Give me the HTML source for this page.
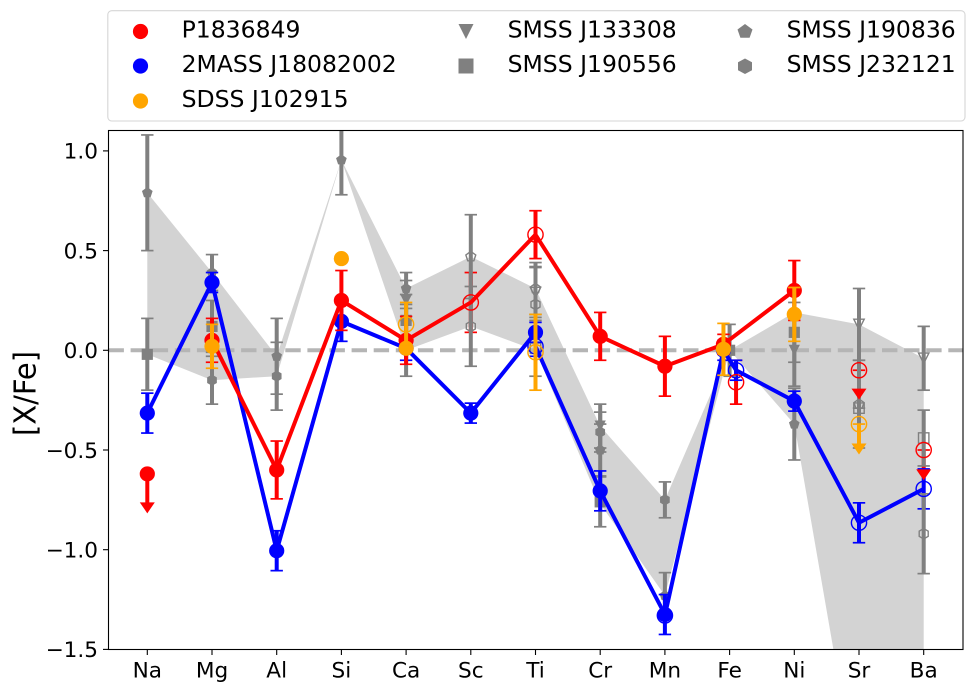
<!DOCTYPE html>
<html lang="en">
<head>
<meta charset="utf-8">
<title>[X/Fe] abundance chart</title>
<style>
html,body{margin:0;padding:0;background:#fff;width:974px;height:692px;overflow:hidden}
svg{display:block;font-family:"DejaVu Sans","Liberation Sans",sans-serif}
</style>
</head>
<body>
<svg id="chart" xmlns="http://www.w3.org/2000/svg" width="974" height="692" viewBox="0 0 974 692">
  <defs><clipPath id="plot-clip"><rect x="108.5" y="130.5" width="854.5" height="519"/></clipPath></defs>
  <rect x="0" y="0" width="974" height="692" fill="#fff"/>
  <g id="plot" clip-path="url(#plot-clip)"></g>
  <rect x="108.5" y="130.5" width="854.5" height="519" fill="none" stroke="#000" stroke-width="1.1"/>
  <g id="axes"></g>
  <text transform="translate(35.3,393.5) rotate(-90) scale(0.95,1)" text-anchor="middle" font-size="30.5" fill="#000">[X/Fe]</text>
  <g>
    <rect x="107.8" y="10.7" width="857.2" height="110.3" rx="4" fill="#fff" stroke="#d6d6d6" stroke-width="1.1"/>
    <g><circle cx="140.5" cy="31.5" r="7.6" fill="#ff0000"/><text x="181.6" y="37.4" font-size="23.5">P1836849</text></g>
    <g><circle cx="140.5" cy="66" r="7.6" fill="#0000ff"/><text x="181.6" y="72" font-size="23.5">2MASS J18082002</text></g>
    <g><circle cx="140.5" cy="101" r="7.6" fill="#ffa500"/><text x="181.6" y="107" font-size="23.5">SDSS J102915</text></g>
    <g><polygon points="458.5,24 473.5,24 466,39" fill="#808080"/><text x="507.6" y="37.4" font-size="23.5">SMSS J133308</text></g>
    <g><rect x="458.5" y="58.5" width="15" height="15" fill="#808080"/><text x="507.6" y="72" font-size="23.5">SMSS J190556</text></g>
    <g><polygon points="745,24 752.5,29.5 749.6,37.8 740.4,37.8 737.5,29.5" fill="#808080"/><text x="786.6" y="37.4" font-size="23.5">SMSS J190836</text></g>
    <g><polygon points="745,58.5 752,62.3 752,70.2 745,74 738,70.2 738,62.3" fill="#808080"/><text x="786.6" y="72" font-size="23.5">SMSS J232121</text></g>
  </g>
</svg>
<script>
// ---- Categories and ticks ----
const species = ['Na','Mg','Al','Si','Ca','Sc','Ti','Cr','Mn','Fe','Ni','Sr','Ba'];
const yTicks = [1.0, 0.5, 0.0, -0.5, -1.0, -1.5];
const yTickLabels = ['1.0','0.5','0.0','\u22120.5','\u22121.0','\u22121.5'];
const _ = null;

// ---- Grey envelope ----
const shadeUpper = [0.79,0.39,-0.03,0.955,0.31,0.47,0.31,-0.38,-0.75,0.0,0.19,0.13,-0.04];
const shadeLower = [-0.02,-0.15,-0.13,0.955,0.0,0.12,0.0,-0.77,-1.23,0.0,-0.37,-2.24,-2.5];

// ---- P1836849 ----
const redFilled    = [-0.62,0.05,-0.60,0.25,0.05,_,_,0.07,-0.08,0.03,0.30,_,_];
const redFilledErr = [_,0.11,0.145,0.15,0.12,_,_,0.12,0.15,0.05,0.15,_,_];
const redOpen      = [_,_,_,_,_,0.24,0.58,_,_,-0.16,_,-0.10,-0.50];
const redOpenErr   = [_,_,_,_,_,0.15,0.12,_,_,0.11,_,_,_];
const redLimit     = [-0.79,_,_,_,_,_,_,_,_,_,_,-0.22,-0.625];
const redLineFilled = [0,1,1,1,1,0,0,1,1,1,1,0,0];
const redLineOpen   = [0,0,0,0,0,1,1,0,0,0,0,0,0];

// ---- 2MASS J18082002 ----
const blueFilled    = [-0.315,0.34,-1.005,0.145,0.01,-0.315,0.09,-0.705,-1.325,0.0,-0.255,_,_];
const blueFilledErr = [0.10,0.05,0.10,0.10,0.06,0.05,0.05,0.10,0.10,0.05,0.05,_,_];
const blueOpen      = [_,_,_,_,_,_,0.02,_,-1.33,-0.10,_,-0.865,-0.695];
const blueOpenErr   = [_,_,_,_,_,_,0.05,_,_,0.05,_,0.10,0.10];

// ---- SDSS J102915 ----
const orangeFilled    = [_,0.02,_,0.46,0.01,_,_,_,_,0.005,0.18,_,_];
const orangeFilledErr = [_,0.11,_,_,_,_,_,_,_,0.13,0.135,_,_];
const orangeOpen      = [_,_,_,_,0.13,_,-0.01,_,_,_,_,-0.37,_];
const orangeOpenErr   = [_,_,_,_,0.11,_,0.19,_,_,_,_,_,_];
const orangeLimit     = [_,_,_,_,_,_,_,_,_,_,_,-0.495,_];

// ---- SMSS J133308 ----
const j133308Filled    = [_,_,_,_,0.25,_,_,-0.38,_,_,0.0,_,_];
const j133308FilledErr = [_,_,_,_,0.10,_,_,0.11,_,_,0.18,_,_];
const j133308Open      = [_,_,_,_,_,_,0.29,_,_,_,_,0.13,-0.04];
const j133308OpenErr   = [_,_,_,_,_,_,0.125,_,_,_,_,0.18,0.16];

// ---- SMSS J190556 ----
const j190556Filled    = [-0.02,0.12,_,_,0.15,_,_,-0.76,_,0.0,0.09,_,_];
const j190556FilledErr = [0.18,0.13,_,_,0.13,_,_,0.125,_,0.13,0.15,_,_];
const j190556Open      = [_,_,_,_,_,_,0.01,_,_,_,_,-0.29,-0.44];
const j190556OpenErr   = [_,_,_,_,_,_,0.14,_,_,_,_,_,0.14];
const j190556Limit     = [_,_,_,_,_,_,_,_,_,_,_,-0.47,_];

// ---- SMSS J190836 ----
const j190836Filled    = [0.79,0.39,-0.03,0.955,0.31,_,_,-0.50,-1.23,_,-0.37,_,_];
const j190836FilledErr = [0.29,0.09,0.19,0.175,0.08,_,_,0.13,0.115,_,0.18,_,_];
const j190836Open      = [_,_,_,_,_,0.47,0.31,_,_,_,_,-0.27,_];
const j190836OpenErr   = [_,_,_,_,_,0.21,0.13,_,_,_,_,0.22,_];

// ---- SMSS J232121 ----
const j232121Filled    = [_,-0.15,-0.13,_,0.04,_,_,-0.41,-0.75,_,_,_,_];
const j232121FilledErr = [_,0.12,0.17,_,0.17,_,_,0.10,0.09,_,_,_,_];
const j232121Open      = [_,_,_,_,_,0.12,0.23,_,_,_,_,_,-0.92];
const j232121OpenErr   = [_,_,_,_,_,0.20,0.19,_,_,_,_,_,0.20];

// ---- Axis functions ----
const SVG_NS = 'http://www.w3.org/2000/svg';
const plot = document.getElementById('plot');
const axes = document.getElementById('axes');
const FE_INDEX = species.indexOf('Fe');
const PLOT_TOP = 130.5;
const PLOT_BOTTOM = 649.5;
function xScale(i){ return 147.3 + i * 64.7; }
function yScale(v){ return 350.3 - v * 199.4; }
function xFilled(i, offsetFe){ return xScale(i) - (offsetFe && i === FE_INDEX ? 0.095 * 64.7 : 0); }
function xOpen(i, offsetFe){ return xScale(i) + (offsetFe && i === FE_INDEX ? 0.1 * 64.7 : 0); }

function make(tag, attrs, parent){
  const el = document.createElementNS(SVG_NS, tag);
  for (const k in attrs) el.setAttribute(k, attrs[k]);
  (parent || plot).appendChild(el);
  return el;
}

function drawErrorBar(x, v, err, color, slug){
  const g = make('g', {});
  
  
  const top = yScale(v + err), bottom = yScale(v - err);
  make('line', {x1:x, x2:x, y1:Math.max(top, PLOT_TOP), y2:Math.min(bottom, PLOT_BOTTOM), stroke:color, 'stroke-width':4}, g);
  if (top >= PLOT_TOP) make('line', {x1:x-6.2, x2:x+6.2, y1:top, y2:top, stroke:color, 'stroke-width':1.7}, g);
  if (bottom <= PLOT_BOTTOM) make('line', {x1:x-6.2, x2:x+6.2, y1:bottom, y2:bottom, stroke:color, 'stroke-width':1.7}, g);
}

function drawLimitLine(x, v, lim, color, slug){
  const g = make('g', {});
  
  
  make('line', {x1:x, x2:x, y1:yScale(v), y2:yScale(lim), stroke:color, 'stroke-width':4}, g);
  make('line', {x1:x-6.2, x2:x+6.2, y1:yScale(v), y2:yScale(v), stroke:color, 'stroke-width':1.7}, g);
}

function drawLimitTip(x, lim, color, slug){
  const y = yScale(lim);
  const t = make('polygon', {points:[x-7.5,y-5.5,x+7.5,y-5.5,x,y+5.5].join(' '), fill:color});
  
  
}

function shapePoints(shape, x, y, r){
  let pts = [];
  if (shape === 'triangle') pts = [x-r,y-r,x+r,y-r,x,y+r];
  if (shape === 'square') pts = [x-r,y-r,x+r,y-r,x+r,y+r,x-r,y+r];
  if (shape === 'pentagon' || shape === 'hexagon'){
    const n = shape === 'pentagon' ? 5 : 6;
    for (let k = 0; k < n; k++){
      const a = -Math.PI/2 + k * 2*Math.PI/n;
      pts.push(x + r*Math.cos(a), y + r*Math.sin(a));
    }
  }
  return pts.join(' ');
}

function drawMarker(x, v, shape, r, color, open, slug){
  const y = yScale(v);
  const style = open ? {fill:'none', stroke:color, 'stroke-width':1.4} : {fill:color};
  let m;
  if (shape === 'circle') m = make('circle', Object.assign({cx:x, cy:y, r:r}, style));
  else m = make('polygon', Object.assign({points:shapePoints(shape, x, y, r)}, style));
  
  
}

function connect(points, color, slug){
  const p = make('polyline', {points:points.map(q => q.join(',')).join(' '), fill:'none', stroke:color, 'stroke-width':4, 'stroke-linejoin':'round'});
  
  
}

// Lower edge of the envelope, cut where it leaves the bottom of the plot.
function lowerEdgePoints(){
  const out = [];
  species.forEach((s,i) => {
    const x = xScale(i), y = yScale(shadeLower[i]);
    if (i > 0){
      const px = xScale(i-1), py = yScale(shadeLower[i-1]);
      if (py <= PLOT_BOTTOM && y > PLOT_BOTTOM){
        out.push([px + (PLOT_BOTTOM-py)/(y-py)*(x-px), PLOT_BOTTOM]);
      }
    }
    out.push([x, Math.min(y, PLOT_BOTTOM)]);
  });
  return out;
}

// ---- Shaded envelope and reference line ----
const shadePts = species.map((s,i) => [xScale(i), yScale(shadeUpper[i])])
  .concat(lowerEdgePoints().reverse())
  .map(q => q.join(','));
const shade = make('polygon', {points:shadePts.join(' '), fill:'#d3d3d3'});



const zeroLine = make('line', {x1:108.5, x2:963, y1:yScale(0), y2:yScale(0), stroke:'#b5b5b5', 'stroke-width':4, 'stroke-dasharray':'15.4 6.7'});



// ---- Drawing helpers per series ----
function drawUnderBars(open, openErr, limit, color, slug, offsetFe){
  species.forEach((s,i) => {
    if (open[i] === null) return;
    const x = xOpen(i, offsetFe);
    if (openErr[i] !== null) drawErrorBar(x, open[i], openErr[i], color, slug + '-' + s);
    if (limit && limit[i] !== null) drawLimitLine(x, open[i], limit[i], color, slug + '-' + s);
  });
}

function drawGrey(filled, filledErr, open, openErr, limit, shape, slug){
  species.forEach((s,i) => {
    const x = xScale(i);
    if (filled[i] !== null && filledErr[i] !== null) drawErrorBar(x, filled[i], filledErr[i], '#808080', slug + '-' + s);
    if (open[i] !== null && openErr[i] !== null) drawErrorBar(x, open[i], openErr[i], '#808080', slug + '-open-' + s);
    if (open[i] !== null && limit && limit[i] !== null) drawLimitLine(x, open[i], limit[i], '#808080', slug + '-' + s);
  });
  species.forEach((s,i) => {
    const x = xScale(i);
    if (filled[i] !== null) drawMarker(x, filled[i], shape, 5.6, '#808080', false, slug + '-' + s);
    if (open[i] !== null) drawMarker(x, open[i], shape, 5.2, '#808080', true, slug + '-open-' + s);
  });
}

function drawColoured(filled, filledErr, open, openErr, limit, lineFilled, lineOpen, color, slug, barsOverOpen){
  const pts = [];
  species.forEach((s,i) => {
    if (filled[i] !== null && lineFilled[i]) pts.push([xFilled(i,true), yScale(filled[i])]);
    if (open[i] !== null && lineOpen[i]) pts.push([xOpen(i,true), yScale(open[i])]);
  });
  if (pts.length) connect(pts, color, slug);
  species.forEach((s,i) => {
    if (filled[i] === null) return;
    const x = xFilled(i, true);
    if (filledErr[i] !== null) drawErrorBar(x, filled[i], filledErr[i], color, slug + '-' + s);
    if (limit && limit[i] !== null && open[i] === null) {
      drawLimitLine(x, filled[i], limit[i], color, slug + '-' + s);
      drawLimitTip(x, limit[i], color, slug + '-' + s);
    }
    drawMarker(x, filled[i], 'circle', 7.6, color, false, slug + '-' + s);
  });
  species.forEach((s,i) => {
    if (open[i] === null) return;
    const x = xOpen(i, true);
    if (barsOverOpen) {
      if (openErr[i] !== null) drawErrorBar(x, open[i], openErr[i], color, slug + '-open-' + s);
      if (limit && limit[i] !== null) drawLimitLine(x, open[i], limit[i], color, slug + '-open-' + s);
    }
    if (limit && limit[i] !== null) drawLimitTip(x, limit[i], color, slug + '-open-' + s);
    drawMarker(x, open[i], 'circle', 7.6, color, true, slug + '-open-' + s);
  });
}

// ---- Layers: open-point bars sit beneath the grey stars ----
drawUnderBars(redOpen, redOpenErr, redLimit, '#ff0000', 'p1836849-open', true);
drawUnderBars(blueOpen, blueOpenErr, null, '#0000ff', '2mass-open', true);

drawGrey(j232121Filled, j232121FilledErr, j232121Open, j232121OpenErr, null, 'hexagon', 'smss-j232121');
drawGrey(j190836Filled, j190836FilledErr, j190836Open, j190836OpenErr, null, 'pentagon', 'smss-j190836');
drawGrey(j190556Filled, j190556FilledErr, j190556Open, j190556OpenErr, j190556Limit, 'square', 'smss-j190556');
drawGrey(j133308Filled, j133308FilledErr, j133308Open, j133308OpenErr, null, 'triangle', 'smss-j133308');

const allOn = species.map(() => 1);
const allOff = species.map(() => 0);
drawColoured(blueFilled, blueFilledErr, blueOpen, blueOpenErr, null, allOn, allOn, '#0000ff', '2mass-j18082002', false);
drawColoured(redFilled, redFilledErr, redOpen, redOpenErr, redLimit, redLineFilled, redLineOpen, '#ff0000', 'p1836849', false);
drawColoured(orangeFilled, orangeFilledErr, orangeOpen, orangeOpenErr, orangeLimit, allOff, allOff, '#ffa500', 'sdss-j102915', true);

// ---- Axes ----
species.forEach((s,i) => {
  const tick = make('line', {x1:xScale(i), x2:xScale(i), y1:649.5, y2:655, stroke:'#000', 'stroke-width':1.1}, axes);
  
  
  const label = make('text', {x:xScale(i), y:677.3, 'text-anchor':'middle', 'font-size':21.6, fill:'#000'}, axes);
  
  
  label.textContent = s;
});
yTicks.forEach((v,i) => {
  const tick = make('line', {x1:103, x2:108.5, y1:yScale(v), y2:yScale(v), stroke:'#000', 'stroke-width':1.1}, axes);
  
  
  const label = make('text', {x:98, y:yScale(v)+7.8, 'text-anchor':'end', 'font-size':21.6, fill:'#000'}, axes);
  
  
  label.textContent = yTickLabels[i];
});
</script>
</body>
</html>
